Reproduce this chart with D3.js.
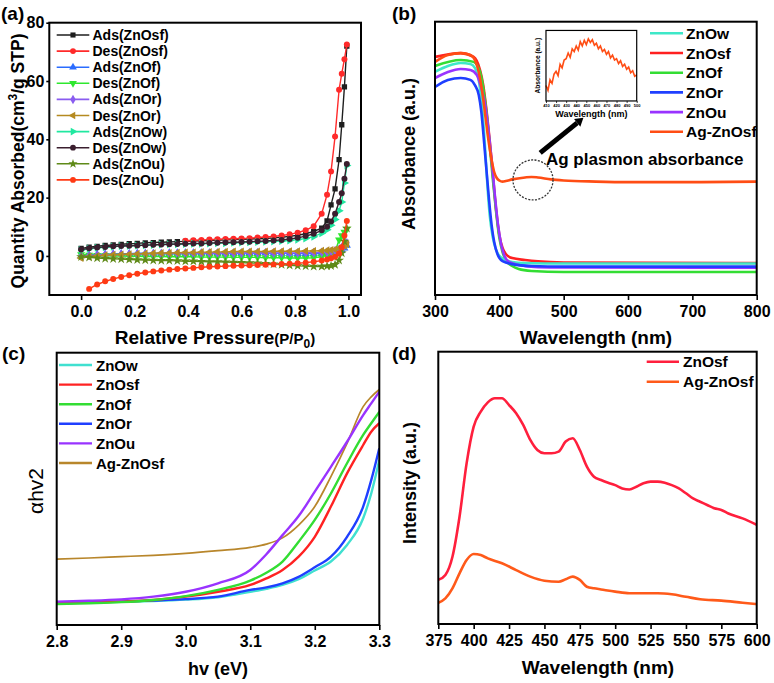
<!DOCTYPE html>
<html><head><meta charset="utf-8">
<script src="https://cdn.jsdelivr.net/npm/d3@7"></script>
<style>body{margin:0;background:#fff;} svg text{font-family:"Liberation Sans",Arial,sans-serif;}</style>
</head><body><svg id="c" width="774" height="683" xmlns="http://www.w3.org/2000/svg"></svg>
<script>
// ---------------- DATA ----------------
// (a) N2 isotherms
const pressure = [0,0.03,0.06,0.09,0.12,0.15,0.18,0.21,0.24,0.27,0.30,0.33,0.36,0.39,0.42,0.45,0.48,0.51,0.54,0.57,0.60,0.63,0.66,0.69,0.72,0.75,0.78,0.81,0.84,0.87,0.90,0.92,0.935,0.95,0.965,0.975,0.985,0.994];
const adsZnOsf = [2.6,3.0,3.3,3.6,3.8,4.0,4.2,4.3,4.5,4.6,4.7,4.8,4.9,5.0,5.1,5.2,5.3,5.4,5.5,5.6,5.7,5.8,5.9,6.0,6.2,6.4,6.7,7.1,7.6,8.4,9.5,12,17.5,23,33,45,58,72];
const desZnOsf = [null,null,null,null,null,null,null,null,null,null,null,null,null,5.2,5.4,5.5,5.6,5.7,5.8,5.9,6.0,6.1,6.3,6.5,6.7,7.0,7.4,8.0,8.8,10.2,14.5,21,29,41,57,62.5,67.5,72.5];
const adsZnOf = [0.0,0.3,0.5,0.6,0.7,0.8,0.8,0.9,0.9,0.9,0.9,1.0,1.0,1.0,1.0,1.0,1.0,1.0,1.0,1.0,1.0,1.0,1.0,1.0,0.9,0.9,0.9,0.8,0.8,0.8,0.8,0.9,1.0,1.2,1.5,2.0,2.7,3.6];
const desZnOf = [0.5,0.3,0.2,0.1,0.0,0.0,-0.1,-0.1,-0.2,-0.2,-0.2,-0.3,-0.3,-0.3,-0.3,-0.4,-0.4,-0.4,-0.4,-0.5,-0.5,-0.5,-0.5,-0.6,-0.6,-0.6,-0.7,-0.7,-0.7,-0.6,-0.3,0.2,0.8,1.5,5.5,7.0,8.2,9.2];
const adsZnOr = [0.0,0.2,0.3,0.4,0.5,0.5,0.6,0.6,0.7,0.7,0.7,0.8,0.8,0.8,0.8,0.9,0.9,0.9,0.9,0.9,0.9,1.0,1.0,1.0,1.0,1.0,1.0,1.0,1.1,1.1,1.2,1.3,1.5,1.8,2.3,2.9,3.6,4.5];
const desZnOr = [-0.7,-0.3,0.0,0.2,0.4,0.5,0.6,0.7,0.8,0.9,1.0,1.0,1.1,1.2,1.2,1.3,1.3,1.4,1.4,1.5,1.5,1.5,1.5,1.5,1.6,1.6,1.6,1.6,1.7,1.7,1.8,1.9,2.0,2.2,2.6,3.0,3.5,4.0];
const adsZnOw = [2.0,2.5,2.8,3.0,3.2,3.4,3.5,3.6,3.7,3.8,3.9,4.0,4.0,4.1,4.2,4.2,4.3,4.4,4.4,4.5,4.6,4.7,4.8,4.9,5.0,5.1,5.3,5.6,6.0,6.6,7.8,9.0,10.5,12.5,15.5,18.5,25,31];
const desZnOw = [2.2,2.6,2.9,3.1,3.3,3.4,3.5,3.6,3.7,3.8,3.9,4.0,4.1,4.2,4.3,4.3,4.4,4.5,4.6,4.7,4.8,4.9,5.0,5.1,5.3,5.5,5.8,6.2,6.8,7.6,8.8,10,11.8,14.5,18.5,21.5,26.5,31.5];
const adsZnOu = [-0.3,-0.5,-0.7,-0.9,-1.0,-1.1,-1.2,-1.3,-1.4,-1.5,-1.6,-1.6,-1.7,-1.8,-1.8,-1.9,-2.0,-2.0,-2.1,-2.2,-2.3,-2.4,-2.5,-2.6,-2.8,-3.0,-3.2,-3.4,-3.5,-3.6,-3.6,-3.5,-3.4,-3.0,-1.5,1.0,5.0,9.5];
const desZnOu = [null,-11.3,-9.8,-8.7,-7.9,-7.2,-6.6,-6.1,-5.7,-5.3,-5.0,-4.7,-4.5,-4.3,-4.1,-3.9,-3.7,-3.6,-3.5,-3.4,-3.3,-3.2,-3.1,-3.0,-2.9,-2.8,-2.7,-2.5,-2.3,-2.0,-1.6,-1.2,-0.8,-0.3,0.8,3,7,12];
const isoNames = ["Ads(ZnOsf)","Des(ZnOsf)","Ads(ZnOf)","Des(ZnOf)","Ads(ZnOr)","Des(ZnOr)","Ads(ZnOw)","Des(ZnOw)","Ads(ZnOu)","Des(ZnOu)"];
const isoValues = [adsZnOsf,desZnOsf,adsZnOf,desZnOf,adsZnOr,desZnOr,adsZnOw,desZnOw,adsZnOu,desZnOu];
const isoColors = ["#1e1e1e","#ff2a2a","#2a6cff","#2ee82e","#8a5cf0","#b58a20","#20e8a0","#3a1e2e","#5f8a18","#ff3a14"];
const isoMarkers = ["square","circle","up","down","diamond","left","right","circle","star","circle"];
const aTicksX = [0,0.2,0.4,0.6,0.8,1.0];
const aTicksY = [0,20,40,60,80];

// (b) UV-vis absorbance
const absW_ZnOw = [300,320,340,355,362,368,372,376,379,382,385,390,395,400,410,420,440,500,800];
const absV_ZnOw = [0.817,0.838,0.849,0.845,0.831,0.787,0.713,0.604,0.494,0.384,0.293,0.209,0.165,0.143,0.128,0.121,0.117,0.115,0.115];
const absW_ZnOsf = [300,340,360,370,375,380,385,390,395,400,405,410,420,440,460,500,800];
const absV_ZnOsf = [0.871,0.885,0.871,0.823,0.768,0.677,0.567,0.439,0.311,0.220,0.172,0.150,0.135,0.128,0.123,0.119,0.117];
const absW_ZnOf = [300,340,360,370,375,380,385,390,395,400,405,410,420,430,450,500,800];
const absV_ZnOf = [0.838,0.860,0.853,0.816,0.757,0.670,0.549,0.421,0.304,0.209,0.157,0.128,0.106,0.095,0.088,0.084,0.084];
const absW_ZnOr = [300,320,340,355,362,368,372,376,380,384,388,392,397,405,420,450,500,800];
const absV_ZnOr = [0.761,0.787,0.794,0.787,0.768,0.732,0.670,0.567,0.457,0.348,0.256,0.194,0.150,0.124,0.113,0.106,0.104,0.104];
const absW_ZnOu = [300,320,340,355,365,372,378,383,388,393,398,403,408,415,430,460,500,800];
const absV_ZnOu = [0.794,0.816,0.827,0.823,0.805,0.757,0.695,0.604,0.494,0.366,0.256,0.183,0.143,0.121,0.110,0.102,0.101,0.100];
const absW_Ag = [300,320,340,355,362,368,373,378,383,388,392,396,400,405,410,420,440,450,460,480,500,550,600,700,800];
const absV_Ag = [0.853,0.878,0.885,0.878,0.860,0.816,0.750,0.659,0.567,0.494,0.450,0.428,0.419,0.415,0.417,0.423,0.430,0.432,0.430,0.423,0.419,0.415,0.413,0.413,0.415];
const uvNames = ["ZnOw","ZnOsf","ZnOf","ZnOr","ZnOu","Ag-ZnOsf"];
const uvColors = ["#3ee8c8","#ff2020","#33dd33","#1f3fff","#9933ff","#ff4d14"];
const uvW = [absW_ZnOw,absW_ZnOsf,absW_ZnOf,absW_ZnOr,absW_ZnOu,absW_Ag];
const uvV = [absV_ZnOw,absV_ZnOsf,absV_ZnOf,absV_ZnOr,absV_ZnOu,absV_Ag];
const bTicksX = [300,400,500,600,700,800];
// inset: Ag plasmon band
const insetW = [410,412,414,416,418,420,422,424,426,428,430,432,434,436,438,440,442,444,446,448,450,452,454,456,458,460,462,464,466,468,470,472,474,476,478,480,482,484,486,488,490,492,494,496,498,500];
const insetV = [0.22,0.15,0.30,0.25,0.38,0.42,0.36,0.52,0.47,0.58,0.60,0.68,0.62,0.74,0.70,0.78,0.72,0.84,0.78,0.86,0.80,0.88,0.83,0.87,0.79,0.82,0.74,0.78,0.70,0.73,0.66,0.70,0.61,0.65,0.58,0.60,0.53,0.57,0.49,0.52,0.45,0.48,0.40,0.43,0.35,0.37];
const insetTicks = [410,420,430,440,450,460,470,480,490,500];

// (c) Tauc plot
const tauE = [2.80,2.85,2.90,2.95,3.00,3.05,3.10,3.125,3.15,3.175,3.20,3.225,3.25,3.275,3.2875,3.30];
const tauZnOw = [0.082,0.083,0.085,0.088,0.093,0.102,0.122,0.133,0.147,0.168,0.200,0.233,0.294,0.392,0.483,0.606];
const tauZnOsf = [0.080,0.082,0.086,0.092,0.104,0.122,0.147,0.171,0.202,0.251,0.324,0.435,0.557,0.661,0.710,0.741];
const tauZnOf = [0.077,0.080,0.084,0.092,0.106,0.129,0.163,0.192,0.233,0.306,0.386,0.483,0.594,0.698,0.741,0.783];
const tauZnOr = [0.083,0.084,0.086,0.090,0.095,0.104,0.129,0.138,0.153,0.177,0.212,0.251,0.324,0.435,0.532,0.649];
const tauZnOu = [0.086,0.089,0.094,0.104,0.122,0.153,0.202,0.260,0.330,0.400,0.490,0.581,0.673,0.771,0.814,0.857];
const tauAg = [0.242,0.246,0.251,0.256,0.263,0.273,0.285,0.297,0.320,0.367,0.435,0.545,0.667,0.802,0.838,0.865];
const tauNames = ["ZnOw","ZnOsf","ZnOf","ZnOr","ZnOu","Ag-ZnOsf"];
const tauColors = ["#40e0d0","#ff2222","#33dd33","#1f3fff","#9933ff","#b8862b"];
const tauValues = [tauZnOw,tauZnOsf,tauZnOf,tauZnOr,tauZnOu,tauAg];
const cTicksX = [2.8,2.9,3.0,3.1,3.2,3.3];

// (d) PL spectra
const plW_ZnOsf = [375,380,385,390,395,400,405,410,415,420,425,430,435,440,445,450,455,460,465,470,475,480,485,490,495,500,505,510,515,520,525,530,535,540,545,550,555,560,565,570,575,580,590,600];
const plV_ZnOsf = [0.162,0.180,0.247,0.394,0.590,0.725,0.780,0.814,0.829,0.829,0.804,0.774,0.731,0.676,0.639,0.627,0.627,0.633,0.670,0.682,0.639,0.578,0.541,0.529,0.519,0.510,0.498,0.494,0.504,0.517,0.523,0.523,0.519,0.510,0.498,0.480,0.461,0.449,0.437,0.425,0.419,0.406,0.388,0.364];
const plW_Ag = [375,380,385,390,395,400,405,410,420,430,440,450,460,465,470,475,480,485,490,500,510,520,530,540,550,560,575,590,600];
const plV_Ag = [0.078,0.094,0.131,0.186,0.235,0.257,0.253,0.241,0.223,0.198,0.174,0.159,0.155,0.164,0.174,0.162,0.137,0.131,0.127,0.119,0.113,0.113,0.113,0.109,0.100,0.091,0.086,0.078,0.073];
const plNames = ["ZnOsf","Ag-ZnOsf"];
const plColors = ["#ff1f3d","#ff5a1a"];
const dTicksX = [375,400,425,450,475,500,525,550,575,600];

// ---------------- DRAWING ----------------
const svg = d3.select("#c");
const FONT = "'Liberation Sans', Arial, sans-serif";
const defs = svg.append("defs");

function clip(id, x0, y0, x1, y1) {
  defs.append("clipPath").attr("id", id).append("rect")
    .attr("x", x0).attr("y", y0).attr("width", x1 - x0).attr("height", y1 - y0);
}
function frame(x0, y0, x1, y1, w) {
  svg.append("rect").attr("x", x0).attr("y", y0).attr("width", x1 - x0).attr("height", y1 - y0)
    .attr("fill", "none").attr("stroke", "#000").attr("stroke-width", w || 2);
}
function styleAxis(g, fs) {
  g.attr("font-family", FONT).attr("font-size", fs).attr("font-weight", "bold");
  g.select(".domain").remove();
  g.selectAll(".tick line").attr("stroke", "#000").attr("stroke-width", 1.6);
  g.selectAll(".tick text").attr("fill", "#000");
}
function label(x, y, txt, fs, opts) {
  opts = opts || {};
  const t = svg.append("text").attr("x", x).attr("y", y).attr("font-size", fs)
    .attr("font-weight", opts.weight || "bold").attr("fill", "#000")
    .attr("text-anchor", opts.anchor || "start").text(txt);
  if (opts.rotate) t.attr("transform", `rotate(-90,${x},${y})`);
  return t;
}
function symbolPath(kind, size) {
  const map = {square: d3.symbolSquare, circle: d3.symbolCircle, up: d3.symbolTriangle,
    down: d3.symbolTriangle, left: d3.symbolTriangle, right: d3.symbolTriangle,
    diamond: d3.symbolDiamond, star: d3.symbolStar};
  return d3.symbol().type(map[kind]).size(size)();
}
function symbolRot(kind) {
  return {down: 180, left: -90, right: 90}[kind] || 0;
}

// ===== Panel (a) =====
const A = {l: 49.3, r: 361, t: 22.7, b: 295};
const xa = d3.scaleLinear().domain([-0.119, 1.047]).range([A.l, A.r]);
const ya = d3.scaleLinear().domain([-13.4, 80]).range([A.b, A.t]);
clip("clipA", A.l, A.t, A.r, A.b);
const gA = svg.append("g").attr("clip-path", "url(#clipA)");
isoValues.forEach((vals, i) => {
  const pts = pressure.map((p, j) => [p, vals[j]]).filter(d => d[1] !== null);
  gA.append("path").datum(pts)
    .attr("d", d3.line().x(d => xa(d[0])).y(d => ya(d[1])))
    .attr("fill", "none").attr("stroke", isoColors[i]).attr("stroke-width", 1.4);
  const sz = isoMarkers[i] === "star" ? 30 : 28;
  gA.selectAll(null).data(pts).enter().append("path")
    .attr("d", symbolPath(isoMarkers[i], sz))
    .attr("transform", d => `translate(${xa(d[0])},${ya(d[1])}) rotate(${symbolRot(isoMarkers[i])})`)
    .attr("fill", isoColors[i]);
});
frame(A.l, A.t, A.r, A.b);
styleAxis(svg.append("g").attr("transform", `translate(0,${A.b})`)
  .call(d3.axisBottom(xa).tickValues(aTicksX).tickFormat(d3.format(".1f")).tickSize(5).tickPadding(6)), 16);
styleAxis(svg.append("g").attr("transform", `translate(${A.l},0)`)
  .call(d3.axisLeft(ya).tickValues(aTicksY).tickSize(3).tickPadding(2)), 16);
// legend (a)
isoNames.forEach((n, i) => {
  const y = 35 + i * 16.1;
  svg.append("line").attr("x1", 56.7).attr("x2", 89.3).attr("y1", y).attr("y2", y)
    .attr("stroke", isoColors[i]).attr("stroke-width", 1.6);
  svg.append("path").attr("d", symbolPath(isoMarkers[i], 26))
    .attr("transform", `translate(73,${y}) rotate(${symbolRot(isoMarkers[i])})`).attr("fill", isoColors[i]);
  label(92.5, y + 5, n, 14);
});
// titles (a)
const tA = label(215, 344, "Relative Pressure", 19, {anchor: "middle"});
tA.append("tspan").attr("font-size", 15).text("(P/P");
tA.append("tspan").attr("font-size", 12).attr("dy", 4).text("0");
tA.append("tspan").attr("font-size", 15).attr("dy", -4).text(")");
const yA = label(24, 161, "Quantity Absorbed(cm", 17.5, {anchor: "middle", rotate: true});
yA.append("tspan").attr("font-size", 12).attr("dy", -7).text("3");
yA.append("tspan").attr("dy", 7).text("/g STP)");
label(1, 20, "(a)", 19);

// ===== Panel (b) =====
const B = {l: 435, r: 756.7, t: 21.7, b: 295};
const xb = d3.scaleLinear().domain([300, 800]).range([B.l, B.r]);
const yb = d3.scaleLinear().domain([0, 1]).range([B.b, B.t]);
clip("clipB", B.l, B.t, B.r, B.b);
const gB = svg.append("g").attr("clip-path", "url(#clipB)");
const lineB = d3.line().x(d => xb(d[0])).y(d => yb(d[1])).curve(d3.curveMonotoneX);
[1, 2, 0, 4, 3, 5].forEach(i => {
  gB.append("path").datum(uvW[i].map((w, j) => [w, uvV[i][j]]))
    .attr("d", lineB).attr("fill", "none").attr("stroke", uvColors[i]).attr("stroke-width", 2.6);
});
frame(B.l, B.t, B.r, B.b);
styleAxis(svg.append("g").attr("transform", `translate(0,${B.b})`)
  .call(d3.axisBottom(xb).tickValues(bTicksX).tickSize(5).tickPadding(6)), 16);
uvNames.forEach((n, i) => {
  const y = 33.3 + i * 19.7;
  svg.append("line").attr("x1", 650).attr("x2", 683).attr("y1", y).attr("y2", y)
    .attr("stroke", uvColors[i]).attr("stroke-width", 2.6);
  label(686, y + 5.5, n, 15.5);
});
label(596, 344, "Wavelength (nm)", 19, {anchor: "middle"});
label(415, 154, "Absorbance (a.u.)", 18, {anchor: "middle", rotate: true});
label(392, 20, "(b)", 19);
// plasmon annotation (positions through the panel scales)
svg.append("circle").attr("cx", xb(452.3)).attr("cy", yb(0.421)).attr("r", 20)
  .attr("fill", "none").attr("stroke", "#333").attr("stroke-width", 1.3).attr("stroke-dasharray", "2,1.4");
label(xb(472.5), yb(0.476), "Ag plasmon absorbance", 17);
{
  const x1 = xb(463.5), y1 = yb(0.52), x2 = xb(521), y2 = yb(0.63);
  svg.append("line").attr("x1", x1).attr("y1", y1).attr("x2", x2).attr("y2", y2)
    .attr("stroke", "#000").attr("stroke-width", 5);
  const ang = Math.atan2(y2 - y1, x2 - x1);
  const tipX = x2 + 8 * Math.cos(ang), tipY = y2 + 8 * Math.sin(ang);
  const px = -Math.sin(ang), py = Math.cos(ang);
  svg.append("polygon").attr("points",
    `${tipX},${tipY} ${x2 + 5 * px},${y2 + 5 * py} ${x2 - 5 * px},${y2 - 5 * py}`).attr("fill", "#000");
}
// inset
const I = {l: xb(472.5), r: xb(613.5), t: yb(0.968), b: yb(0.71)};
const xi = d3.scaleLinear().domain([410, 500]).range([I.l, I.r]);
const yi = d3.scaleLinear().domain([0, 1]).range([I.b, I.t]);
svg.append("path").datum(insetW.map((w, j) => [w, insetV[j]]))
  .attr("d", d3.line().x(d => xi(d[0])).y(d => yi(d[1])))
  .attr("fill", "none").attr("stroke", "#ff4d14").attr("stroke-width", 1.6);
frame(I.l, I.t, I.r, I.b, 1.2);
{
  const gi = svg.append("g").attr("transform", `translate(0,${I.b})`)
    .call(d3.axisBottom(xi).tickValues(insetTicks).tickSize(2).tickPadding(1));
  styleAxis(gi, 4);
  gi.selectAll(".tick line").attr("stroke-width", 0.8);
}
label((I.l + I.r) / 2, 117, "Wavelength (nm)", 9, {anchor: "middle"});
label(540, (I.t + I.b) / 2, "Absorbance (a.u.)", 6.6, {anchor: "middle", rotate: true});

// ===== Panel (c) =====
const C = {l: 56.7, r: 379.3, t: 352.7, b: 625};
const xc = d3.scaleLinear().domain([2.8, 3.3]).range([C.l, C.r]);
const yc = d3.scaleLinear().domain([0, 1]).range([C.b, C.t]);
clip("clipC", C.l, C.t, C.r, C.b);
const gC = svg.append("g").attr("clip-path", "url(#clipC)");
const lineC = d3.line().x(d => xc(d[0])).y(d => yc(d[1])).curve(d3.curveMonotoneX);
[0, 3, 1, 2, 5, 4].forEach(i => {
  gC.append("path").datum(tauE.map((e, j) => [e, tauValues[i][j]]))
    .attr("d", lineC).attr("fill", "none").attr("stroke", tauColors[i])
    .attr("stroke-width", i === 5 ? 1.7 : 2.4);
});
frame(C.l, C.t, C.r, C.b);
styleAxis(svg.append("g").attr("transform", `translate(0,${C.b})`)
  .call(d3.axisBottom(xc).tickValues(cTicksX).tickFormat(d3.format(".1f")).tickSize(5).tickPadding(6)), 16);
tauNames.forEach((n, i) => {
  const y = 365 + i * 19.6;
  svg.append("line").attr("x1", 59).attr("x2", 92).attr("y1", y).attr("y2", y)
    .attr("stroke", tauColors[i]).attr("stroke-width", 2.4);
  label(96, y + 5.5, n, 15);
});
label(218, 675, "hv (eV)", 18, {anchor: "middle"});
label(43, 491, "\u03b1hv2", 21, {anchor: "middle", rotate: true, weight: "normal"});
label(2, 360, "(c)", 19);

// ===== Panel (d) =====
const D = {l: 438.3, r: 756.7, t: 351.7, b: 624};
const xd = d3.scaleLinear().domain([375, 600]).range([D.l, D.r]);
const yd = d3.scaleLinear().domain([0, 1]).range([D.b, D.t]);
clip("clipD", D.l, D.t, D.r, D.b);
const gD = svg.append("g").attr("clip-path", "url(#clipD)");
const lineD = d3.line().x(d => xd(d[0])).y(d => yd(d[1])).curve(d3.curveMonotoneX);
[[plW_ZnOsf, plV_ZnOsf], [plW_Ag, plV_Ag]].forEach((s, i) => {
  gD.append("path").datum(s[0].map((w, j) => [w, s[1][j]]))
    .attr("d", lineD).attr("fill", "none").attr("stroke", plColors[i]).attr("stroke-width", 2.6);
});
frame(D.l, D.t, D.r, D.b);
styleAxis(svg.append("g").attr("transform", `translate(0,${D.b})`)
  .call(d3.axisBottom(xd).tickValues(dTicksX).tickSize(5).tickPadding(6)), 16);
plNames.forEach((n, i) => {
  const y = 361.7 + i * 20;
  svg.append("line").attr("x1", 646.7).attr("x2", 679).attr("y1", y).attr("y2", y)
    .attr("stroke", plColors[i]).attr("stroke-width", 2.6);
  label(683, y + 5.5, n, 15.5);
});
label(598, 674, "Wavelength (nm)", 19, {anchor: "middle"});
label(416, 483, "Intensity (a.u.)", 18, {anchor: "middle", rotate: true});
label(392, 360, "(d)", 19);
</script>
</body></html>
